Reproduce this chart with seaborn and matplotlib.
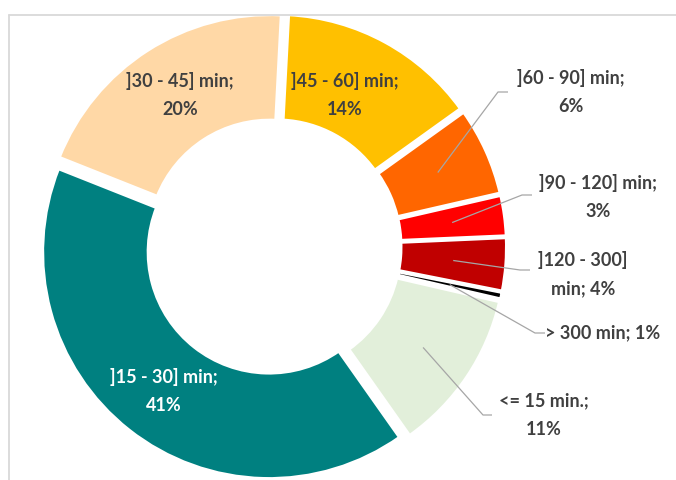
import numpy as np
import matplotlib
matplotlib.use("Agg")
import matplotlib.pyplot as plt
import seaborn as sns
from matplotlib.lines import Line2D

# ---------------- data ----------------
categories = ["]45 - 60] min", "]60 - 90] min", "]90 - 120] min", "]120 - 300] min",
              "> 300 min", "<= 15 min.", "]15 - 30] min", "]30 - 45] min"]
shares = [14.25, 6.3, 2.9, 3.8, 0.5, 11.6, 40.75, 19.8]      # slice sizes
label_pct = [14, 6, 3, 4, 1, 11, 41, 20]                      # printed percentages
colors = ["#FFC000", "#FF6600", "#FF0000", "#C00000",
          "#000000", "#E2EFDA", "#008080", "#FFD8A6"]

# ---------------- layout (pixels, y from top) ----------------
W, H = 676, 480
CX, CY = 273.3, 246.8
R_OUT, R_IN, EXPL, EDGE = 225.0, 122.5, 6.7, 3.5
# label mode: 'pct' -> break before pct, 'word' -> break inside category, 'line' -> one line
label_layout = [
    dict(xy=(345, 95), mode="pct", color="#404040", leader=None),
    dict(xy=(571, 92), mode="pct", color="#404040", leader=[(498, 92), (508, 92)]),
    dict(xy=(598, 197), mode="pct", color="#404040", leader=[(522, 195), (532, 195)]),
    dict(xy=(583, 274), mode="word", color="#404040", leader=[(520, 270), (530, 270)]),
    dict(xy=(603, 333), mode="line", color="#404040", leader=[(535, 333), (545, 333)]),
    dict(xy=(544, 415), mode="pct", color="#404040", leader=[(483, 415), (492, 415)]),
    dict(xy=(164, 391), mode="pct", color="#FFFFFF", leader=None),
    dict(xy=(180, 95), mode="pct", color="#404040", leader=None),
]

sns.set_theme(style="white")
plt.rcParams["font.family"] = ["Lato", "DejaVu Sans"]

fig = plt.figure(figsize=(W / 100, H / 100), dpi=100)
ax = fig.add_axes([0, 0, 1, 1])

def fy(y):
    return H - y

px2pt = 72 / 100
wedges, _ = ax.pie(
    shares, colors=colors, startangle=87, counterclock=False,
    radius=R_OUT + EDGE / 2, center=(CX, fy(CY)),
    explode=[EXPL] * len(shares),
    wedgeprops=dict(width=(R_OUT + EDGE / 2) - (R_IN - EDGE / 2),
                    edgecolor="white", linewidth=EDGE * px2pt),
)
ax.set_xlim(0, W)
ax.set_ylim(0, H)
ax.set_aspect("equal")
ax.axis("off")

for w, cat, pct, lay in zip(wedges, categories, label_pct, label_layout):
    if lay["mode"] == "pct":
        txt = f"{cat};\n{pct}%"
    elif lay["mode"] == "word":
        head, tail = cat.rsplit(" ", 1)
        txt = f"{head}\n{tail}; {pct}%"
    else:
        txt = f"{cat}; {pct}%"
    x, y = lay["xy"]
    ax.text(x, fy(y), txt, ha="center", va="center", multialignment="center",
            fontsize=13, fontweight="bold", color=lay["color"], linespacing=1.8)
    if lay["leader"] is not None:
        tm = np.deg2rad((w.theta1 + w.theta2) / 2)
        mr = w.r - w.width / 2
        sx = w.center[0] + mr * np.cos(tm)
        sy = w.center[1] + mr * np.sin(tm)
        xs = [sx] + [p[0] for p in lay["leader"]]
        ys = [sy] + [fy(p[1]) for p in lay["leader"]]
        ax.plot(xs, ys, color="#A6A6A6", lw=0.9, solid_capstyle="butt", zorder=5)

# chart-area frame (top and left edges visible in the crop)
fig.add_artist(Line2D([8.5 / W, 1], [1 - 14.5 / H] * 2, transform=fig.transFigure,
                      color="#D9D9D9", lw=1.3))
fig.add_artist(Line2D([8.5 / W] * 2, [0, 1 - 14.5 / H], transform=fig.transFigure,
                      color="#D9D9D9", lw=1.3))

fig.savefig("out.png", dpi=100, facecolor="white")
